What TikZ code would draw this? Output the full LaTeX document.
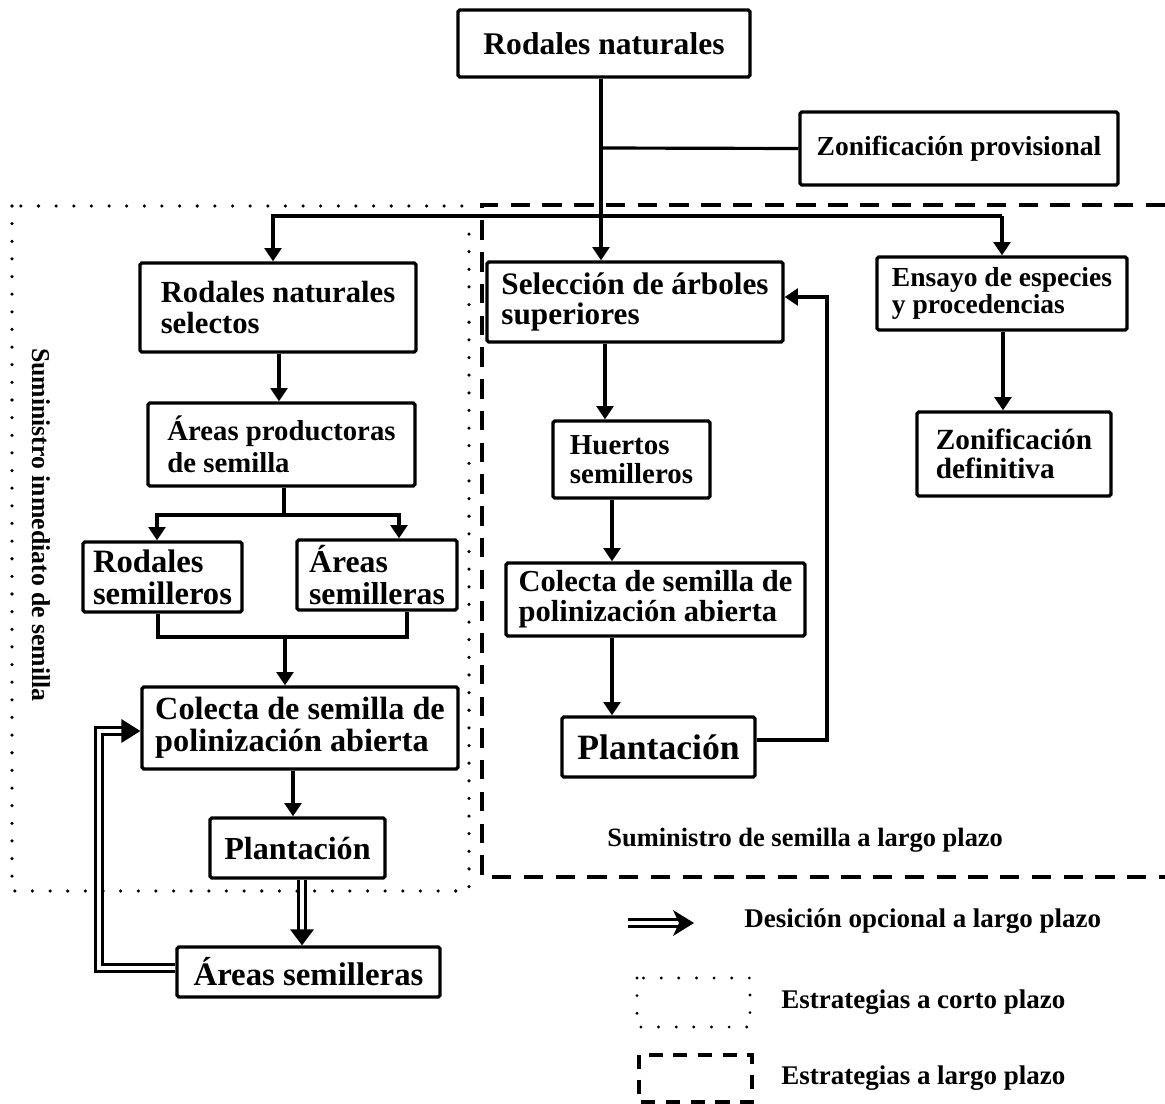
\documentclass[tikz,border=0pt]{standalone}
\usepackage{fontspec}
\setmainfont{Liberation Serif}
\usetikzlibrary{arrows.meta,calc}
\newlength\pxu
\setlength\pxu{0.567pt}
\newcommand\fsz[2]{\fontsize{#1}{#2}\selectfont}
\begin{document}
\begin{tikzpicture}[x=0.567pt,y=-0.567pt,
  box/.style={draw, line width=1.9pt, rounded corners=1pt, align=left, inner sep=0pt},
  ln/.style={line width=1.8pt},
  arr/.style={line width=1.8pt, -{Triangle[width=9.5pt,length=7.5pt]}},
  dbl/.style={double, double distance=2.4pt, line width=1.6pt},
  dotline/.style={line width=2pt, line cap=round, dash pattern=on 0pt off 10pt},
  dashline/.style={line width=1.8pt, dash pattern=on 11pt off 7pt},
  lbl/.style={font=\bfseries\fsz{15.3}{17}, inner sep=0pt}
]
\fill[white] (0,0) rectangle (1165,1104);
\useasboundingbox (0,0) rectangle (1165,1104);

% regions
\draw[dotline] (12,206) rectangle (469,891);
\draw[dashline] (1165,205) -- (482,205) -- (482,877) -- (1165,877);

% nodes
\node[box, minimum width=292\pxu, minimum height=67\pxu, font=\bfseries\fsz{17.9}{18}] (rn) at (604,43.5) {Rodales naturales};
\node[box, minimum width=318\pxu, minimum height=73\pxu, font=\bfseries\fsz{15.6}{16}] (zp) at (959,148.5) {Zonificación provisional};
\node[box, minimum width=276\pxu, minimum height=89\pxu, font=\bfseries\fsz{17.4}{17.4}] (rns) at (278,307.5) {Rodales naturales\\selectos};
\node[box, minimum width=267\pxu, minimum height=83\pxu, font=\bfseries\fsz{16.3}{18}] (ap) at (281.5,444.5) {Áreas productoras\\de semilla};
\node[box, minimum width=159\pxu, minimum height=70\pxu, font=\bfseries\fsz{18.5}{18.3}] (rs) at (162.5,577) {Rodales\\semilleros};
\node[box, minimum width=160\pxu, minimum height=70\pxu, font=\bfseries\fsz{18}{18}] (as) at (377,575) {Áreas\\semilleras};
\node[box, minimum width=316\pxu, minimum height=82\pxu, font=\bfseries\fsz{18.3}{18}] (cl) at (300,728) {Colecta de semilla de\\polinización abierta};
\node[box, minimum width=175\pxu, minimum height=60\pxu, font=\bfseries\fsz{18.2}{18}] (pl) at (297.5,848) {Plantación};
\node[box, minimum width=263\pxu, minimum height=50\pxu, font=\bfseries\fsz{18.6}{18}] (asb) at (308.5,972) {Áreas semilleras};
\node[box, minimum width=296\pxu, minimum height=80\pxu, font=\bfseries\fsz{17.7}{17.5}] (sel) at (635,302) {Selección de árboles\\superiores};
\node[box, minimum width=157\pxu, minimum height=77\pxu, font=\bfseries\fsz{16.4}{16.4}] (hu) at (631.5,459.5) {Huertos\\semilleros};
\node[box, minimum width=299\pxu, minimum height=73\pxu, font=\bfseries\fsz{17.3}{17}] (cr) at (655.5,599.5) {Colecta de semilla de\\polinización abierta};
\node[box, minimum width=193\pxu, minimum height=60\pxu, font=\bfseries\fsz{20.2}{20}] (pr) at (658.5,747) {Plantación};
\node[box, minimum width=250\pxu, minimum height=73\pxu, font=\bfseries\fsz{15.6}{15.6}] (en) at (1002,293.5) {Ensayo de especies\\y procedencias};
\node[box, minimum width=194\pxu, minimum height=84\pxu, font=\bfseries\fsz{16.6}{16.6}] (zd) at (1014,454) {Zonificación\\definitiva};

% labels
\node[lbl, rotate=-90, font=\bfseries\fsz{14.6}{16}] (vt) at (41,525) {Suministro inmediato de semilla};
\node[lbl, anchor=west, font=\bfseries\fsz{15}{16}] (sl) at (607,840) {Suministro de semilla a largo plazo};
\node[lbl, anchor=west] (l1) at (744,921) {Desición opcional a largo plazo};
\node[lbl, anchor=west] (l2) at (781,1002) {Estrategias a corto plazo};
\node[lbl, anchor=west] (l3) at (781,1078) {Estrategias a largo plazo};

% top connectors
\coordinate (t1) at (601,148);
\coordinate (hl) at (273,216);
\coordinate (hr) at (1002,216);
\draw[ln] (t1) -- (zp.west);
\draw[arr] (rn.south -| t1) -- (sel.north -| t1);
\draw[arr] (hr) -- (hl) -- (rns.north -| hl);
\draw[arr] (hr) -- (en.north -| hr);

% left column
\draw[arr] (rns.south -| 279,0) -- (ap.north -| 279,0);
\coordinate (b1) at (284,515);
\draw[ln] (ap.south -| b1) -- (b1);
\draw[arr] (b1) -- (157,515) -- (rs.north -| 157,0);
\draw[arr] (b1) -- (399,515) -- (as.north -| 399,0);
\coordinate (m1) at (285,637);
\draw[ln] (rs.south -| 158,0) -- (158,637) -- (407,637) -- (as.south -| 407,0);
\draw[arr] (m1) -- (cl.north -| m1);
\draw[arr] (cl.south -| 293,0) -- (pl.north -| 293,0);

% double arrow plantacion -> areas semilleras
\draw[dbl] (pl.south -| 302,0) -- ($(asb.north -| 302,0)+(0,-12)$);
\fill ($(asb.north -| 302,0)+(-12,-16)$) -- (asb.north -| 302,0) -- ($(asb.north -| 302,0)+(12,-16)$) -- cycle;

% double feedback areas semilleras -> colecta
\draw[dbl] (asb.west |- 0,968) -- (99,968) -- (99,731) -- ($(cl.west |- 0,731)+(-16,0)$);
\fill ($(cl.west |- 0,731)+(-19,-12)$) -- (cl.west |- 0,731) -- ($(cl.west |- 0,731)+(-19,12)$) -- cycle;

% right column
\draw[arr] (sel.south -| 605,0) -- (hu.north -| 605,0);
\draw[arr] (hu.south -| 612,0) -- (cr.north -| 612,0);
\draw[arr] (cr.south -| 612,0) -- (pr.north -| 612,0);
\draw[arr] (pr.east |- 0,740) -- (827,740) -- (827,297) -- (sel.east |- 0,297);
\draw[arr] (en.south -| 1003,0) -- (zd.north -| 1003,0);

% legend
\draw[dbl] (628,923) -- (678,923);
\fill (673,910) -- (694,923) -- (673,936) -- (679,923) -- cycle;
\draw[dotline, line width=1.8pt] (637,978) rectangle (750,1027);
\draw[dashline, dash pattern=on 8pt off 6pt] (639,1055) rectangle (752,1102);
\end{tikzpicture}
\end{document}
